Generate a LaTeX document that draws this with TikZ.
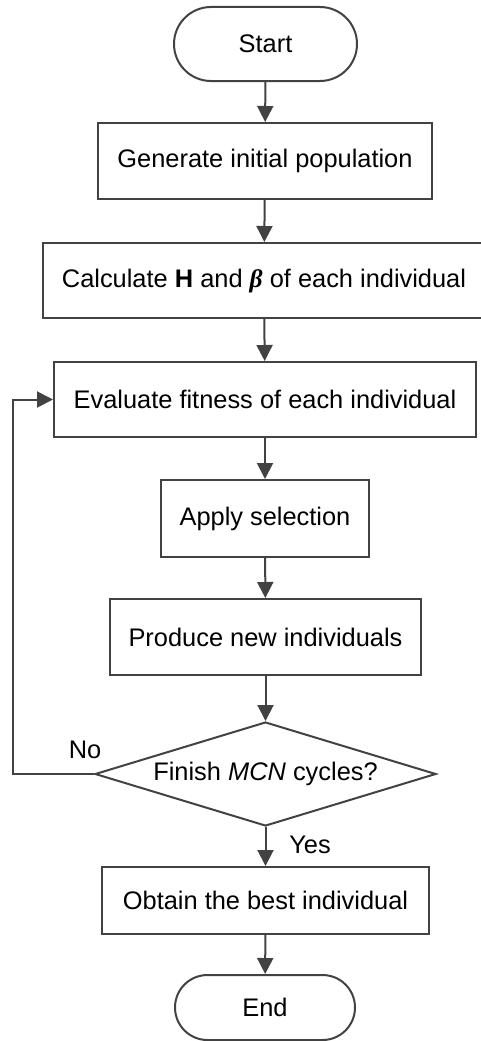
\documentclass[tikz,border=0pt]{standalone}
\usepackage{fontspec}
\setmainfont{Liberation Sans}
\newfontfamily\greekserif{Liberation Serif}
\usetikzlibrary{shapes.geometric,shapes.misc,arrows.meta}
\definecolor{linegray}{HTML}{424242}
\begin{document}
\begin{tikzpicture}[x=1pt,y=-1pt,
  every node/.style={font=\fontsize{25.4}{30}\selectfont, text=black},
  procbox/.style={draw=linegray, line width=2pt, rectangle, inner sep=0pt},
  termbox/.style={draw=linegray, line width=2pt, rounded rectangle, inner sep=0pt},
  decbox/.style={draw=linegray, line width=2pt, diamond, inner sep=0pt},
  flow/.style={draw=linegray, line width=2pt, -{Triangle[length=16pt,width=16pt]}},
  tag/.style={inner sep=0pt}
]
\useasboundingbox (0,0) rectangle (480,1041);

% process chain
\node[termbox, minimum width=183pt, minimum height=74pt] (start) at (265.5,44) {Start};
\node[procbox, minimum width=334pt, minimum height=76pt] (gen) at (265,161) {Generate initial population};
\node[procbox, minimum width=442pt, minimum height=75pt] (calc) at (264,280.5) {Calculate \textbf{H} and {\greekserif\bfseries\itshape β} of each individual};
\node[procbox, minimum width=422pt, minimum height=75pt] (eval) at (265,399.5) {Evaluate fitness of each individual};
\node[procbox, minimum width=208pt, minimum height=77pt] (sel) at (265,518.5) {Apply selection};
\node[procbox, minimum width=311pt, minimum height=76pt] (prod) at (265.5,637) {Produce new individuals};
\node[decbox, minimum width=341pt, minimum height=104pt] (dec) at (265.5,774) {};
\node at (dec) {Finish \textit{MCN} cycles?};
\node[procbox, minimum width=327pt, minimum height=67pt] (best) at (265.5,900.5) {Obtain the best individual};
\node[termbox, minimum width=180pt, minimum height=65pt] (end) at (265,1007.5) {End};

% connectors
\draw[flow] (start) -- (gen);
\draw[flow] (gen) -- (calc);
\draw[flow] (calc) -- (eval);
\draw[flow] (eval) -- (sel);
\draw[flow] (sel) -- (prod);
\draw[flow] (prod) -- (dec);
\draw[flow] (dec) -- (best);
\draw[flow] (best) -- (end);

% loop back when not finished
\coordinate (loopc) at (12.5,774);
\draw[flow] (dec.west) -- (loopc) |- (eval.west);

% branch labels
\node[tag] (nolab) at (85,750) {No};
\node[tag] (yeslab) at (310,845) {Yes};
\end{tikzpicture}
\end{document}
